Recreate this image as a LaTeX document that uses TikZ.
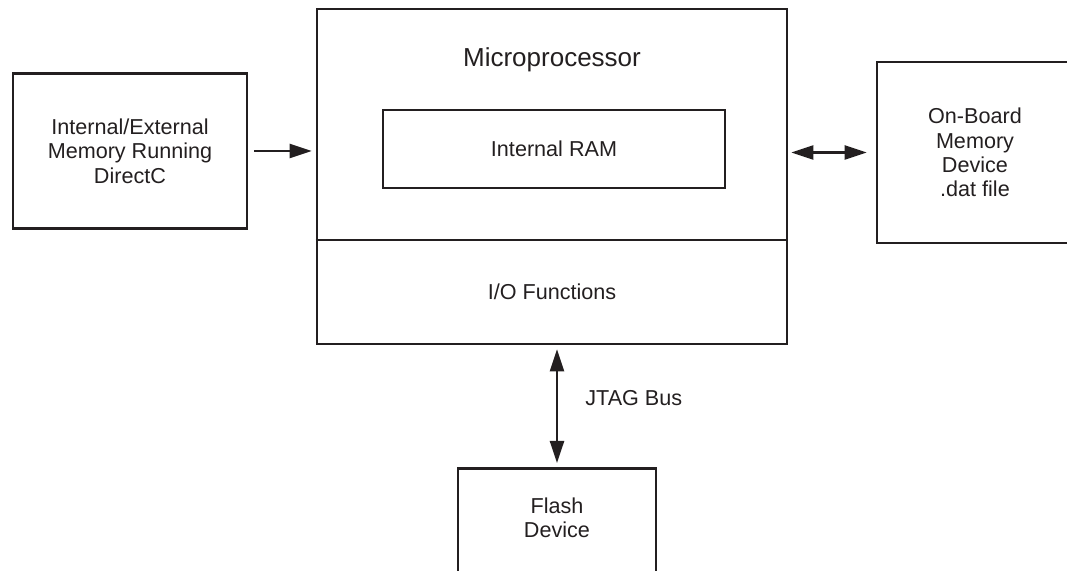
\documentclass[tikz,border=0pt]{standalone}
\usepackage{fontspec}
\setmainfont{Liberation Sans}
\usetikzlibrary{arrows.meta, positioning}
\definecolor{ink}{HTML}{231F20}

\begin{document}
\begin{tikzpicture}[
  x=0.5pt, y=-0.5pt,
  box/.style={rectangle, draw=ink, line width=1.3pt, inner sep=0pt, align=center, text=ink, font=\fontsize{10.8}{12.2}\selectfont},
  txt/.style={inner sep=0pt, align=center, text=ink, font=\fontsize{10.8}{12.2}\selectfont},
  edge/.style={draw=ink, line width=1.3pt},
  onearr/.style={-{Triangle[length=11pt, width=7pt]}, draw=ink, line width=1.2pt},
  twoarr/.style={{Triangle[length=11pt, width=7pt]}-{Triangle[length=11pt, width=7pt]}, draw=ink, line width=1.2pt}
]
\useasboundingbox (0,0) rectangle (1067,571);
\clip (0,0) rectangle (1067,571);

% blocks
\node[box, minimum width=117pt, minimum height=77.5pt] (host) at (130,151) {Internal/External\\Memory Running\\DirectC};
\node[box, minimum width=235pt, minimum height=167.5pt] (cpu) at (552,176.5) {};
\node[txt, anchor=base, font=\fontsize{13}{15}\selectfont] (cputitle) at (552,67) {Microprocessor};
\node[box, minimum width=171pt, minimum height=39pt] (ram) at (554,149) {Internal RAM};
\coordinate (iotop) at (552,240);
\draw[edge] (cpu.west |- iotop) -- (cpu.east |- iotop);
\node[txt] (io) at (552,292) {I/O Functions};
\node[box, minimum width=98pt, minimum height=90.5pt] (obm) at (975,152.5) {On-Board\\Memory\\Device\\.dat file};
\node[box, minimum width=99pt, minimum height=80pt, anchor=north] (flash) at (557,467) {};
\node[txt] (flashtxt) at (557,518) {Flash\\Device};
\node[txt, anchor=west] (jtag) at (585,398) {JTAG Bus};

% connectors
\draw[onearr, shorten <=3pt, shorten >=2pt] (host.east) -- (host.east -| cpu.west);
\draw[twoarr, shorten <=1.5pt, shorten >=4.5pt] (cpu.east |- obm.west) -- (obm.west);
\draw[twoarr, shorten <=2pt, shorten >=2pt] (cpu.south -| flash.north) -- (flash.north);
\end{tikzpicture}
\end{document}
